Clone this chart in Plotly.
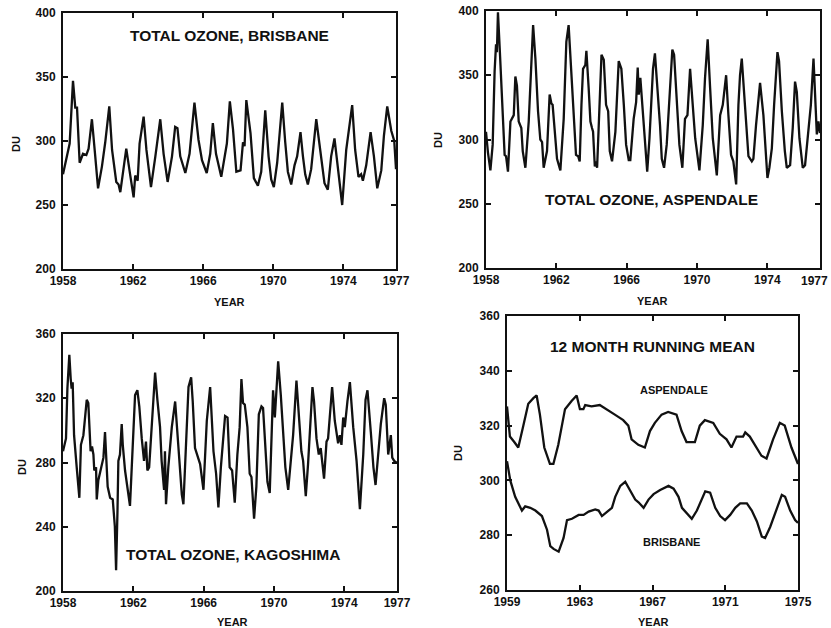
import plotly.graph_objects as go

# ---------------- data (decimal year, Dobson units) ----------------
bris_year = [1958.0, 1958.23, 1958.38, 1958.57, 1958.7, 1958.8, 1958.95, 1959.14, 1959.33, 1959.46, 1959.65, 1959.84,
             1960.0, 1960.22, 1960.41, 1960.64, 1960.8, 1961.04, 1961.17, 1961.27, 1961.46, 1961.61, 1961.84, 1962.03,
             1962.12, 1962.26, 1962.37, 1962.6, 1962.76, 1963.02, 1963.27, 1963.4, 1963.55, 1963.74, 1963.97, 1964.22,
             1964.4, 1964.53, 1964.69, 1964.98, 1965.22, 1965.5, 1965.73, 1965.93, 1966.2, 1966.4, 1966.55, 1966.73,
             1967.03, 1967.35, 1967.52, 1967.7, 1967.89, 1968.13, 1968.27, 1968.36, 1968.46, 1968.7, 1968.89, 1969.12,
             1969.31, 1969.54, 1969.73, 1969.88, 1970.03, 1970.22, 1970.36, 1970.51, 1970.68, 1970.83, 1971.02, 1971.21,
             1971.36, 1971.55, 1971.69, 1971.82, 1971.97, 1972.16, 1972.45, 1972.64, 1972.92, 1973.11, 1973.3, 1973.49,
             1973.68, 1973.93, 1974.16, 1974.35, 1974.5, 1974.67, 1974.86, 1975.01, 1975.11, 1975.3, 1975.55, 1975.74,
             1975.93, 1976.16, 1976.31, 1976.5, 1976.73, 1976.9, 1977.0]
bris_du = [274, 288, 298, 347, 326, 326, 283, 290, 289, 294, 317, 288,
           263, 280, 299, 327, 293, 268, 266, 260, 280, 294, 273, 256,
           273, 269, 298, 319, 293, 264, 288, 301, 317, 290, 268, 288,
           311, 310, 288, 275, 290, 330, 301, 285, 275, 290, 314, 290,
           272, 298, 331, 309, 276, 277, 299, 296, 332, 306, 271, 265,
           276, 324, 288, 270, 264, 283, 304, 330, 299, 276, 266, 281,
           288, 307, 288, 274, 266, 278, 317, 295, 267, 262, 288, 302,
           278, 250, 293, 311, 328, 293, 272, 274, 269, 281, 307, 288,
           263, 277, 304, 327, 308, 300, 278]

asp_year = [1958.0, 1958.11, 1958.25, 1958.38, 1958.49, 1958.57, 1958.62, 1958.68, 1958.78, 1958.91, 1959.06, 1959.14,
            1959.25, 1959.39, 1959.48, 1959.58, 1959.67, 1959.76, 1959.86, 1960.01, 1960.09, 1960.24, 1960.43, 1960.56,
            1960.68, 1960.81, 1960.96, 1961.09, 1961.19, 1961.28, 1961.47, 1961.62, 1961.72, 1961.79, 1961.91, 1962.04,
            1962.23, 1962.42, 1962.57, 1962.7, 1962.85, 1963.0, 1963.12, 1963.24, 1963.33, 1963.43, 1963.52, 1963.65,
            1963.71, 1963.84, 1963.94, 1964.03, 1964.09, 1964.19, 1964.26, 1964.32, 1964.45, 1964.57, 1964.7, 1964.83,
            1964.95, 1965.04, 1965.17, 1965.36, 1965.55, 1965.7, 1965.84, 1965.97, 1966.12, 1966.21, 1966.4, 1966.54,
            1966.63, 1966.69, 1966.78, 1966.92, 1967.03, 1967.17, 1967.3, 1967.4, 1967.5, 1967.61, 1967.75, 1967.9,
            1968.0, 1968.13, 1968.28, 1968.43, 1968.6, 1968.7, 1968.85, 1969.0, 1969.17, 1969.32, 1969.46, 1969.61,
            1969.76, 1969.9, 1970.14, 1970.33, 1970.46, 1970.61, 1970.75, 1970.9, 1971.13, 1971.32, 1971.47, 1971.66,
            1971.79, 1971.94, 1972.07, 1972.23, 1972.36, 1972.45, 1972.55, 1972.74, 1972.93, 1973.12, 1973.21, 1973.36,
            1973.59, 1973.78, 1973.93, 1974.01, 1974.12, 1974.26, 1974.39, 1974.58, 1974.67, 1974.83, 1975.0, 1975.11,
            1975.3, 1975.45, 1975.58, 1975.68, 1975.83, 1976.02, 1976.15, 1976.34, 1976.48, 1976.63, 1976.72, 1976.82,
            1976.91, 1977.0]
asp_du = [306, 290, 276, 296, 353, 374, 368, 399, 371, 329, 288, 287,
          275, 314, 316, 319, 349, 342, 314, 309, 291, 278, 314, 348,
          389, 363, 322, 300, 298, 278, 291, 335, 328, 327, 306, 285,
          276, 316, 376, 389, 353, 314, 288, 287, 283, 327, 355, 358,
          369, 340, 314, 309, 306, 279, 283, 278, 327, 366, 362, 327,
          322, 291, 283, 306, 361, 355, 327, 296, 284, 284, 316, 329,
          356, 335, 348, 319, 296, 275, 301, 327, 355, 367, 342, 311,
          285, 278, 296, 332, 370, 366, 327, 296, 278, 316, 319, 355,
          327, 301, 276, 311, 348, 378, 340, 301, 272, 319, 327, 350,
          319, 288, 283, 265, 327, 350, 363, 327, 287, 283, 285, 311,
          344, 319, 285, 270, 278, 293, 327, 368, 361, 322, 291, 278,
          280, 309, 345, 337, 301, 278, 280, 306, 327, 363, 337, 304,
          314, 305]

kag_year = [1958.0, 1958.17, 1958.25, 1958.36, 1958.44, 1958.49, 1958.55, 1958.63, 1958.78, 1958.93, 1959.02, 1959.16,
            1959.35, 1959.44, 1959.57, 1959.65, 1959.73, 1959.78, 1959.88, 1959.92, 1960.01, 1960.14, 1960.3, 1960.39,
            1960.49, 1960.54, 1960.68, 1960.83, 1960.95, 1961.02, 1961.1, 1961.15, 1961.24, 1961.34, 1961.4, 1961.53,
            1961.81, 1962.0, 1962.1, 1962.23, 1962.34, 1962.48, 1962.61, 1962.72, 1962.8, 1962.9, 1963.01, 1963.1,
            1963.24, 1963.37, 1963.52, 1963.61, 1963.75, 1963.8, 1963.86, 1963.99, 1964.19, 1964.38, 1964.57, 1964.76,
            1964.85, 1965.0, 1965.14, 1965.29, 1965.38, 1965.51, 1965.65, 1965.8, 1965.99, 1966.18, 1966.37, 1966.56,
            1966.71, 1966.84, 1966.98, 1967.22, 1967.36, 1967.48, 1967.62, 1967.77, 1967.92, 1968.05, 1968.15, 1968.24,
            1968.34, 1968.49, 1968.62, 1968.72, 1968.87, 1969.0, 1969.14, 1969.29, 1969.38, 1969.52, 1969.63, 1969.76,
            1969.89, 1969.95, 1970.05, 1970.24, 1970.39, 1970.52, 1970.65, 1970.81, 1970.9, 1971.09, 1971.28, 1971.41,
            1971.56, 1971.66, 1971.81, 1971.94, 1972.1, 1972.19, 1972.28, 1972.42, 1972.55, 1972.66, 1972.85, 1972.99,
            1973.08, 1973.31, 1973.46, 1973.65, 1973.75, 1973.84, 1973.94, 1974.03, 1974.18, 1974.32, 1974.51, 1974.7,
            1974.89, 1975.08, 1975.21, 1975.32, 1975.51, 1975.66, 1975.78, 1975.93, 1976.08, 1976.27, 1976.36, 1976.5,
            1976.65, 1976.73, 1976.84, 1976.97]
kag_du = [287, 295, 326, 347, 332, 326, 330, 297, 277, 258, 291, 297,
          319, 317, 287, 290, 285, 275, 277, 257, 269, 275, 283, 299,
          281, 265, 258, 257, 240, 213, 250, 281, 285, 304, 291, 275,
          253, 302, 322, 325, 315, 295, 281, 293, 275, 277, 297, 318,
          336, 319, 302, 281, 263, 287, 254, 277, 302, 318, 291, 260,
          254, 297, 327, 333, 318, 289, 284, 279, 263, 306, 327, 287,
          273, 252, 277, 309, 308, 277, 275, 255, 285, 302, 332, 317,
          316, 302, 273, 271, 245, 265, 310, 315, 314, 285, 268, 261,
          302, 325, 308, 343, 322, 302, 277, 263, 273, 297, 331, 310,
          287, 281, 259, 279, 315, 327, 318, 295, 285, 289, 270, 293,
          295, 327, 306, 292, 297, 291, 308, 302, 318, 330, 302, 281,
          251, 285, 319, 325, 299, 277, 266, 285, 304, 320, 316, 285,
          297, 283, 281, 280]

rm_asp_year = [1959.0, 1959.16, 1959.4, 1959.62, 1959.9, 1960.17, 1960.45, 1960.63, 1960.81, 1961.05, 1961.36, 1961.55,
               1961.82, 1962.19, 1962.55, 1962.83, 1963.01, 1963.2, 1963.3, 1963.65, 1964.1, 1964.48, 1964.93, 1965.39,
               1965.67, 1965.85, 1966.22, 1966.58, 1966.86, 1967.13, 1967.5, 1967.86, 1968.32, 1968.6, 1968.87, 1969.33,
               1969.6, 1969.88, 1970.34, 1970.7, 1971.07, 1971.34, 1971.62, 1971.98, 1972.1, 1972.35, 1972.63, 1972.99,
               1973.27, 1973.63, 1974.0, 1974.27, 1974.64, 1975.0]
rm_asp_du = [327, 316, 314, 312, 320, 328, 330, 331, 324, 312, 306, 306,
             313, 326, 329, 331, 326, 326, 327.5, 327, 327.5, 326, 324, 322,
             320, 315, 313, 312, 318, 321, 324, 325, 324, 318, 314, 314,
             320, 322, 321, 317, 315, 312, 316, 316, 317.5, 316, 313, 309,
             308, 315, 321, 320, 312, 306]

rm_bris_year = [1959.0, 1959.18, 1959.45, 1959.82, 1960.0, 1960.28, 1960.56, 1960.92, 1961.2, 1961.38, 1961.56, 1961.84,
                1962.11, 1962.3, 1962.57, 1962.94, 1963.21, 1963.49, 1963.85, 1964.04, 1964.22, 1964.5, 1964.77, 1964.95,
                1965.23, 1965.5, 1965.78, 1966.05, 1966.23, 1966.51, 1966.78, 1967.06, 1967.42, 1967.88, 1968.16, 1968.43,
                1968.62, 1968.89, 1969.16, 1969.44, 1969.71, 1969.9, 1970.17, 1970.45, 1970.72, 1970.99, 1971.27, 1971.55,
                1971.82, 1972.19, 1972.46, 1972.74, 1973.01, 1973.19, 1973.47, 1973.84, 1974.11, 1974.29, 1974.57, 1974.84,
                1975.0]
rm_bris_du = [307, 300, 294, 289, 290.5, 290, 289, 287, 282, 276, 275, 274,
              279, 285.5, 286, 287.4, 287.4, 288.6, 289.4, 289, 287, 288.6, 290, 294,
              298, 299.5, 296, 293, 292, 290, 293, 295, 296.5, 298, 297, 294,
              290, 288, 286, 289, 293, 296, 295.5, 290, 287, 285.5, 287.4, 290,
              291.6, 291.6, 289, 285, 279.5, 279, 283, 290, 294.7, 294, 289, 285.5,
              284.5]

year_ticks_a = [1958, 1962, 1966, 1970, 1974, 1977]
year_ticks_b = [1959, 1963, 1967, 1971, 1975]
du_ticks_a = [200, 250, 300, 350, 400]
du_ticks_b = [200, 240, 280, 320, 360]
du_ticks_c = [260, 280, 300, 320, 340, 360]

# ---------------- figure ----------------
W, H = 831, 628
INK = "#111111"
FONT = "Liberation Sans"

def fx(px):
    return px / W

def fy(py):
    return 1 - py / H

fig = go.Figure()
line_style = dict(color=INK, width=2.3)
fig.add_trace(go.Scatter(x=bris_year, y=bris_du, mode="lines", line=line_style, xaxis="x", yaxis="y"))
fig.add_trace(go.Scatter(x=asp_year, y=asp_du, mode="lines", line=line_style, xaxis="x2", yaxis="y2"))
fig.add_trace(go.Scatter(x=kag_year, y=kag_du, mode="lines", line=line_style, xaxis="x3", yaxis="y3"))
fig.add_trace(go.Scatter(x=rm_asp_year, y=rm_asp_du, mode="lines", line=line_style, xaxis="x4", yaxis="y4"))
fig.add_trace(go.Scatter(x=rm_bris_year, y=rm_bris_du, mode="lines", line=line_style, xaxis="x4", yaxis="y4"))

tickfont = dict(family=FONT, size=12, color=INK, weight="bold")

def xax(dom, rng, ticks, anchor, last_label=True):
    text = [str(t) for t in ticks]
    if not last_label:
        text[-1] = ""
    return dict(domain=dom, range=rng, tickvals=ticks, ticktext=text,
                anchor=anchor, showline=True, linecolor=INK, linewidth=2, mirror="ticks",
                ticks="inside", ticklen=5, tickwidth=1.5, tickcolor=INK, showgrid=False,
                zeroline=False, tickfont=tickfont, fixedrange=True, automargin=False)

def yax(dom, rng, ticks, anchor):
    return dict(domain=dom, range=rng, tickvals=ticks, anchor=anchor, showline=True,
                linecolor=INK, linewidth=2, mirror="ticks", ticks="inside", ticklen=5,
                tickwidth=1.5, tickcolor=INK, showgrid=False, zeroline=False,
                tickfont=tickfont, fixedrange=True, automargin=False, ticklabelstandoff=3)

fig.update_layout(
    width=W, height=H,
    margin=dict(l=0, r=0, t=0, b=0, autoexpand=False),
    paper_bgcolor="white", plot_bgcolor="white",
    showlegend=False,
    xaxis=xax([fx(63), fx(396)], [1958, 1977], year_ticks_a, "y"),
    yaxis=yax([fy(269), fy(13)], [200, 400], du_ticks_a, "x"),
    xaxis2=xax([fx(486), fx(820)], [1958, 1977], year_ticks_a, "y2", last_label=False),
    yaxis2=yax([fy(268), fy(11)], [200, 400], du_ticks_a, "x2"),
    xaxis3=xax([fx(63), fx(397)], [1958, 1977], year_ticks_a, "y3"),
    yaxis3=yax([fy(591), fy(334)], [200, 360], du_ticks_b, "x3"),
    xaxis4=xax([fx(507), fx(798)], [1959, 1975], year_ticks_b, "y4"),
    yaxis4=yax([fy(590), fy(316)], [260, 360], du_ticks_c, "x4"),
)

def label(text, px, py, size=12, angle=0, anchor="center"):
    fig.add_annotation(text=text, x=fx(px), y=fy(py), xref="paper", yref="paper",
                       showarrow=False, textangle=angle, xanchor=anchor, yanchor="middle",
                       font=dict(family=FONT, size=size, color=INK, weight="bold"))

label("TOTAL OZONE, BRISBANE", 229, 36, 15.5)
label("TOTAL OZONE, ASPENDALE", 651, 200, 15.5)
label("TOTAL OZONE, KAGOSHIMA", 233, 554, 15.5)
label("12 MONTH RUNNING MEAN", 652, 346, 15.5)
label("ASPENDALE", 674, 390, 11)
label("BRISBANE", 671, 542, 11)

# last year label of the Aspendale panel sits at the page edge; keep it fully visible
label(str(year_ticks_a[-1]), 830, 281, 12, anchor="right")

for (px, py) in [(16, 144), (438, 140), (22, 467), (458, 453)]:
    label("DU", px, py, 11, -90)
for (px, py) in [(230, 302), (652, 301), (232, 622), (653, 622)]:
    label("YEAR", px, py, 11)

fig.write_html("out.html", config={"displayModeBar": False},
               post_script="document.body.style.margin='0px';document.body.style.overflow='hidden';")
